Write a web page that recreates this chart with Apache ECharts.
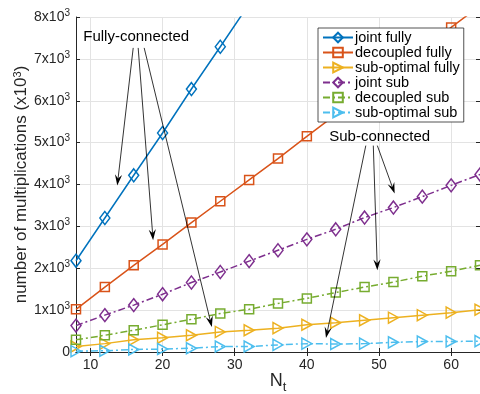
<!DOCTYPE html>
<html><head><meta charset="utf-8">
<script src="https://cdn.jsdelivr.net/npm/echarts@6/dist/echarts.min.js"></script>
<style>html,body{margin:0;padding:0;background:#fff}#c{width:480px;height:394px}</style>
</head><body><div id="c"></div>
<script>
const Nt = [8,12,16,20,24,28,32,36,40,44,48,52,56,60,64];
const xTicks = [10,20,30,40,50,60];
const jointFully = [2180,3200,4220,5230,6280,7290,8310];
const decoupledFully = [1020,1550,2070,2570,3090,3600,4110,4620,5150,5670,6190,6710,7230,7750,8270];
const subOptFully = [130,200,290,340,400,480,520,570,650,700,760,820,880,940,1010];
const jointSub = [630,880,1120,1380,1660,1910,2170,2430,2690,2930,3210,3450,3710,3980,4240];
const decoupledSub = [290,400,520,650,780,920,1020,1160,1280,1420,1550,1670,1810,1930,2070];
const subOptSub = [20,30,60,70,90,130,130,170,200,190,200,230,250,250,260];
const names = ['joint fully','decoupled fully','sub-optimal fully','joint sub','decoupled sub','sub-optimal sub'];
const annotFully = {text:'Fully-connected', pos:[9.0,7524], arrows:[[[15.93,7262],[13.72,3976]],[[16.62,7262],[18.69,2667]],[[17.45,7262],[26.83,595]]]};
const annotSub = {text:'Sub-connected', pos:[43.1,5143], arrows:[[[48.17,4929],[42.65,333]],[[49.21,4929],[49.77,1952]],[[49.77,4929],[52.17,3786]]]};

const FONT = '"Liberation Sans", Arial, Helvetica, sans-serif';
const AX = '#262626';
const zip = v => v.map((y,i)=>[Nt[i],y]);
const dashDot = [7,3,2,3];
function mk(name, vals, color, symbol, size, rot, dashed){
  return {name, type:'line', data: zip(vals), clip:true,
    symbol, symbolSize:size, symbolRotate:rot, showAllSymbol:true,
    lineStyle:{color, width:1.5, type: dashed?dashDot:'solid'},
    itemStyle:{color:'rgba(255,255,255,0)', borderColor:color, borderWidth:1.5},
    emphasis:{disabled:true}, z: 3};
}
const series = [
  mk(names[0], jointFully, '#0072BD', 'diamond', [10,13], 0, false),
  mk(names[1], decoupledFully, '#D95319', 'rect', [9,9], 0, false),
  mk(names[2], subOptFully, '#EDB120', 'triangle', [11,10], -90, false),
  mk(names[3], jointSub, '#7E2F8E', 'diamond', [10,13], 0, true),
  mk(names[4], decoupledSub, '#77AC30', 'rect', [9,9], 0, true),
  mk(names[5], subOptSub, '#4DBEEE', 'triangle', [11,10], -90, true)
];
const chart = echarts.init(document.getElementById('c'), null, {renderer:'canvas'});
const option = {
  animation:false,
  backgroundColor:'#fff',
  textStyle:{fontFamily:FONT},
  grid:{left:76, right:0, top:17, bottom:42, containLabel:false, outerBoundsMode:'none'},
  legend:{orient:'vertical', left:318, top:28, data:names,
    itemWidth:30, itemHeight:12, itemGap:0,
    backgroundColor:'#fff', borderColor:AX, borderWidth:0.8, padding:[2,4,2,4],
    textStyle:{fontFamily:FONT, fontSize:14.5, color:'#000', lineHeight:14.8, padding:[0,0,0,-3]}},
  xAxis:[{type:'value', min:8, max:64, position:'bottom',
    name:'N{sub|t}', nameLocation:'middle', nameGap:17, nameMoveOverlap:false,
    nameTextStyle:{fontFamily:FONT, fontSize:18, color:AX,
      rich:{sub:{fontFamily:FONT, fontSize:13, color:AX, verticalAlign:'bottom', padding:[12,0,0,0]}}},
    axisLine:{lineStyle:{color:AX, width:1}},
    axisTick:{inside:true, length:4, customValues:xTicks, lineStyle:{color:AX}},
    axisLabel:{customValues:xTicks, fontFamily:FONT, fontSize:14, color:AX, margin:6},
    splitLine:{show:true, lineStyle:{color:'#e3e3e3', width:1}}},
   {type:'value', min:8, max:64, position:'top',
    axisLine:{lineStyle:{color:AX, width:1}},
    axisTick:{inside:true, length:4, customValues:xTicks, lineStyle:{color:AX}},
    axisLabel:{show:false}, splitLine:{show:false}}],
  yAxis:[{type:'value', min:0, max:8000, interval:1000,
    name:'number of multiplications (x10{sup|3})', nameLocation:'middle', nameGap:45, nameRotate:90, nameMoveOverlap:false,
    nameTextStyle:{fontFamily:FONT, fontSize:17, color:AX,
      rich:{sup:{fontFamily:FONT, fontSize:11, color:AX, padding:[0,0,8,0]}}},
    axisLine:{show:true, lineStyle:{color:AX, width:1}},
    axisTick:{show:true, inside:true, length:4, lineStyle:{color:AX}},
    axisLabel:{fontFamily:FONT, fontSize:14, color:AX, margin:6,
      formatter: v => v===0 ? '0' : (v/1000)+'x10{sup|3}',
      rich:{sup:{fontFamily:FONT, fontSize:10, color:AX, padding:[0,0,8,0]}}},
    splitLine:{show:true, lineStyle:{color:'#e3e3e3', width:1}}},
   {type:'value', min:0, max:8000, interval:1000, position:'right',
    axisLine:{show:true, lineStyle:{color:AX, width:1}},
    axisTick:{show:true, inside:true, length:4, lineStyle:{color:AX}},
    axisLabel:{show:false}, splitLine:{show:false}}],
  series
};
chart.setOption(option);

function arrowGraphics(a){
  const g = [];
  const p = chart.convertToPixel({gridIndex:0}, a.pos);
  g.push({type:'text', x:p[0], y:p[1], z:10,
    style:{text:a.text, fontFamily:FONT, fontSize:15, fill:'#000', verticalAlign:'middle', align:'left'}});
  a.arrows.forEach(([s,e])=>{
    const ps = chart.convertToPixel({gridIndex:0}, s);
    const pe = chart.convertToPixel({gridIndex:0}, e);
    const dx = pe[0]-ps[0], dy = pe[1]-ps[1];
    const L = Math.hypot(dx,dy), ux = dx/L, uy = dy/L, nx = -uy, ny = ux;
    const hl = 11, hw = 3.6, notch = 7;
    const base = [pe[0]-ux*hl, pe[1]-uy*hl];
    const mid = [pe[0]-ux*notch, pe[1]-uy*notch];
    g.push({type:'line', z:10, shape:{x1:ps[0], y1:ps[1], x2:mid[0], y2:mid[1]},
      style:{stroke:'#000', lineWidth:0.8}});
    g.push({type:'polygon', z:10, shape:{points:[pe, [base[0]+nx*hw, base[1]+ny*hw], mid, [base[0]-nx*hw, base[1]-ny*hw]]},
      style:{fill:'#000'}});
  });
  return g;
}
chart.setOption({graphic: arrowGraphics(annotFully).concat(arrowGraphics(annotSub))});
</script></body></html>
